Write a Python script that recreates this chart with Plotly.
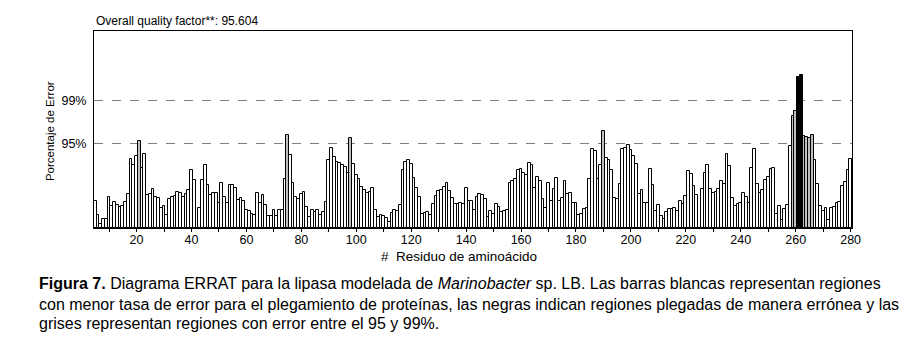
import plotly.graph_objects as go

# Residue numbers (ERRAT window centres)
residues = list(range(5, 281))

# ERRAT error values per residue
error_values = [
    3.59, 1.80, 0.58, 1.26, 1.26, 4.13, 3.01, 3.46, 3.10, 2.83,
    2.92, 3.46, 4.54, 9.34, 8.54, 9.75, 11.77, 8.09, 10.02, 4.49,
    4.54, 5.21, 4.13, 4.00, 2.74, 2.96, 1.71, 3.86, 4.18, 4.27,
    4.81, 4.76, 4.18, 4.63, 5.08, 7.77, 6.42, 0.0, 2.70, 6.42,
    8.45, 5.75, 4.49, 4.76, 4.76, 3.37, 6.11, 4.18, 3.41, 5.84,
    5.84, 5.44, 3.73, 4.09, 3.64, 2.47, 2.25, 1.84, 1.71, 4.76,
    3.41, 4.49, 3.05, 1.66, 1.66, 2.38, 1.66, 2.47, 2.47, 6.56,
    12.49, 9.88, 6.11, 4.18, 3.95, 4.54, 4.90, 2.83, 1.48, 2.47,
    2.16, 2.47, 1.71, 2.20, 3.55, 9.21, 10.83, 9.57, 8.89, 8.80,
    8.54, 8.22, 7.46, 12.17, 8.67, 7.19, 6.65, 5.53, 5.17, 4.72,
    4.85, 5.44, 2.47, 1.48, 1.71, 1.57, 1.39, 0.76, 2.02, 2.38,
    2.29, 3.05, 7.77, 8.85, 9.12, 8.67, 6.69, 5.39, 4.18, 1.84,
    2.07, 2.20, 1.80, 3.28, 4.31, 4.99, 5.08, 5.53, 6.11, 4.94,
    4.09, 3.28, 3.28, 3.37, 3.28, 5.44, 3.59, 3.59, 2.47, 4.13,
    4.63, 4.40, 3.86, 1.48, 2.25, 1.84, 3.28, 2.83, 2.16, 2.29,
    2.38, 6.11, 6.29, 6.65, 7.77, 7.91, 7.41, 7.19, 8.80, 8.45,
    5.44, 6.87, 6.29, 3.95, 2.70, 6.11, 3.59, 5.21, 6.74, 3.59,
    4.09, 6.38, 4.54, 4.76, 3.41, 3.41, 1.80, 1.93, 2.61, 2.74,
    6.65, 10.60, 10.33, 6.65, 8.54, 13.03, 9.48, 9.12, 7.86, 4.04,
    3.86, 5.97, 10.60, 10.78, 11.20, 10.47, 9.66, 8.67, 4.54, 5.08,
    3.37, 3.41, 8.00, 5.84, 2.25, 3.05, 1.62, 1.26, 2.16, 2.52,
    2.61, 2.74, 2.25, 3.59, 3.28, 4.27, 7.64, 7.32, 5.62, 4.49,
    0.0, 5.30, 7.46, 8.54, 5.21, 4.76, 4.85, 5.30, 6.29, 5.97,
    9.93, 8.31, 4.04, 2.92, 3.28, 3.41, 4.76, 4.18, 3.41, 8.13,
    10.69, 5.97, 4.67, 5.12, 6.47, 6.83, 7.95, 8.04, 1.84, 2.96,
    1.08, 2.56, 3.05, 11.05, 15.09, 15.77, 20.40, 20.62, 12.40, 12.31,
    12.08, 12.49, 9.16, 5.88, 3.01, 2.29, 2.65, 1.08, 2.74, 2.87,
    3.32, 3.55, 5.66, 6.15, 7.82, 9.30,
]

# Confidence thresholds (ERRAT)
threshold_values = [11.38, 17.19]
threshold_labels = ["95%", "99%"]

x_tick_values = list(range(20, 281, 20))

quality_text = "Overall quality factor**: 95.604"
y_title = "Porcentaje de Error"
x_title = "#  Residuo de aminoácido"
caption_lines = [
    "<b>Figura 7.</b> Diagrama ERRAT para la lipasa modelada de <i>Marinobacter</i> sp. LB. "
    "Las barras blancas representan regiones",
    "con menor tasa de error para el plegamiento de proteínas, las negras indican regiones "
    "plegadas de manera errónea y las",
    "grises representan regiones con error entre el 95 y 99%.",
]

colors = []
for v in error_values:
    if v > threshold_values[1]:
        colors.append("#000000")
    elif v > threshold_values[0]:
        colors.append("#c0c0c0")
    else:
        colors.append("#ffffff")

FONT = "Liberation Sans, Arial, sans-serif"

fig = go.Figure()
fig.add_trace(go.Bar(
    x=residues,
    y=error_values,
    width=1,
    marker=dict(color=colors, line=dict(color="#000000", width=1)),
    hoverinfo="x+y",
))

fig.update_layout(
    width=918, height=344,
    margin=dict(l=86, r=74, t=23, b=124),
    paper_bgcolor="white", plot_bgcolor="white",
    showlegend=False,
    bargap=0,
    font=dict(family=FONT, size=12, color="#000000"),
)

fig.update_xaxes(
    range=[4.5, 280.5],
    tickvals=x_tick_values,
    ticks="outside", ticklen=3, tickcolor="#000000",
    minor=dict(ticks="outside", dtick=10, tick0=0, ticklen=3, tickcolor="#000000"),
    ticklabelstandoff=-3,
    showline=True, linecolor="#000000", linewidth=1, mirror=True,
    showgrid=False, zeroline=False,
    tickfont=dict(size=12.5, family=FONT),
)
fig.update_yaxes(
    range=[0, 26.55],
    tickvals=threshold_values, ticktext=threshold_labels,
    ticks="", ticklabelstandoff=4,
    showline=True, linecolor="#000000", linewidth=1, mirror=True,
    showgrid=True, gridcolor="#808080", gridwidth=1, griddash="dash",
    zeroline=False,
    tickfont=dict(size=12.5, family=FONT),
)

fig.add_annotation(
    text=quality_text, xref="paper", yref="paper", x=0, y=1,
    xanchor="left", yanchor="bottom", showarrow=False, yshift=1,
    font=dict(size=12, family=FONT),
)
fig.add_annotation(
    text=y_title, xref="paper", yref="paper", x=0, y=0.492,
    xanchor="center", yanchor="middle", xshift=-44, textangle=-90,
    showarrow=False, font=dict(size=11.5, family=FONT),
)
fig.add_annotation(
    text=x_title, xref="paper", yref="paper", x=0.4815, y=-0.1472,
    xanchor="center", yanchor="middle", showarrow=False,
    font=dict(size=13.5, family=FONT),
)
for line, ypos in zip(caption_lines, [-0.2792, -0.3858, -0.4873]):
    fig.add_annotation(
        text=line, xref="paper", yref="paper", x=-0.0752, y=ypos,
        xanchor="left", yanchor="middle", showarrow=False, align="left",
        font=dict(size=16, family=FONT),
    )

fig.write_html("out.html")
